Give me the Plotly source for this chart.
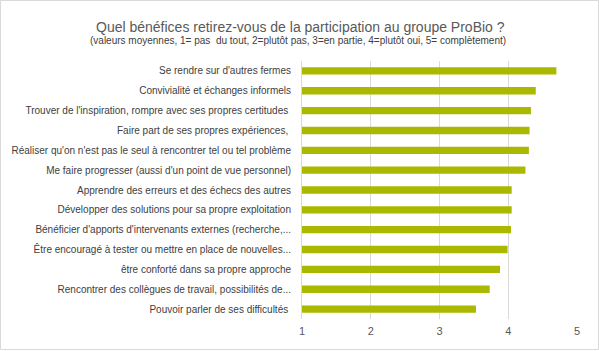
import plotly.graph_objects as go

categories = [
    "Se rendre sur d'autres fermes",
    "Convivialité et échanges informels",
    "Trouver de l'inspiration, rompre avec ses propres certitudes ",
    "Faire part de ses propres expériences, ",
    "Réaliser qu'on n'est pas le seul à rencontrer tel ou tel problème",
    "Me faire progresser (aussi d'un point de vue personnel)",
    "Apprendre des erreurs et des échecs des autres",
    "Développer des solutions pour sa propre exploitation",
    "Bénéficier d'apports d'intervenants externes (recherche,...",
    "Être encouragé à tester ou mettre en place de nouvelles...",
    "être conforté dans sa propre approche",
    "Rencontrer des collègues de travail, possibilités de...",
    "Pouvoir parler de ses difficultés ",
]
values = [4.70, 4.40, 4.33, 4.31, 4.30, 4.25, 4.05, 4.05, 4.04, 3.99, 3.88, 3.73, 3.53]
x_ticks = [1, 2, 3, 4, 5]

title = "Quel bénéfices retirez-vous de la participation au groupe ProBio ?"
subtitle = "(valeurs moyennes, 1= pas  du tout, 2=plutôt pas, 3=en partie, 4=plutôt oui, 5= complètement)"

fig = go.Figure()
fig.add_trace(go.Bar(
    x=[v - 1 for v in values], base=1, y=categories, orientation="h",
    marker=dict(color="#AAB800", line=dict(width=0)),
    hoverinfo="skip",
))

L, R, T, B = 302, 22, 61, 32
W, H = 599, 351
pw, ph = W - L - R, H - T - B

fig.update_layout(
    width=W, height=H,
    margin=dict(l=L, r=R, t=T, b=B, pad=0),
    paper_bgcolor="white", plot_bgcolor="white",
    bargap=0.63,
    showlegend=False,
    font=dict(family="Liberation Sans, Arial, sans-serif", color="#404040"),
    xaxis=dict(range=[1, 5], tickvals=x_ticks, showgrid=True, gridcolor="#D9D9D9",
               gridwidth=1, zeroline=False, showline=False,
               tickfont=dict(size=11, color="#595959"), ticks="", ticklabelstandoff=4),
    yaxis=dict(autorange="reversed", showgrid=False, showline=True, linecolor="#D9D9D9",
               linewidth=1, ticks="", tickfont=dict(size=10, color="#404040"),
               ticklabelstandoff=8),
    annotations=[
        dict(text=title, xref="paper", yref="paper", x=(300 - L) / pw, y=(H - B - 27) / ph,
             xanchor="center", yanchor="middle", showarrow=False,
             font=dict(size=14, color="#595959")),
        dict(text=subtitle, xref="paper", yref="paper", x=(298 - L) / pw, y=(H - B - 40.5) / ph,
             xanchor="center", yanchor="middle", showarrow=False,
             font=dict(size=10, color="#404040")),
    ],
    shapes=[
        dict(type="rect", xref="paper", yref="paper",
             x0=(0.5 - L) / pw, x1=(598.5 - L) / pw,
             y0=(H - B - 349.5) / ph, y1=(H - B - 0.5) / ph,
             line=dict(color="#D9D9D9", width=1), fillcolor="rgba(0,0,0,0)", layer="below"),
    ],
)

fig.write_html("out.html")
